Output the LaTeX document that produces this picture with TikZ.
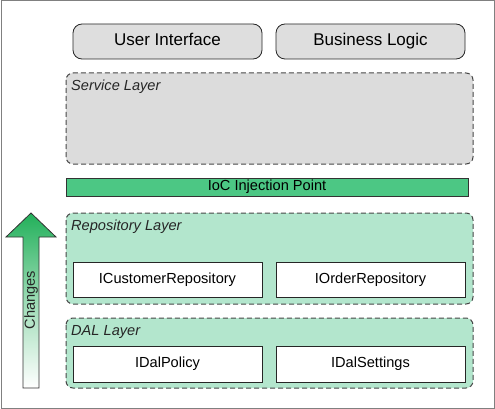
\documentclass[tikz,border=0pt]{standalone}
\usepackage{fontspec}
\setmainfont{Liberation Sans}
\begin{document}
\begin{tikzpicture}[x=1pt,y=-1pt,
  topbox/.style={draw=black!85,fill=black!13,rounded corners=9pt,line width=0.8pt,text height=12.2pt,text depth=3.6pt,font=\fontsize{17}{20}\selectfont},
  layerbox/.style={draw=black!72,dashed,dash pattern=on 5pt off 3pt,rounded corners=7pt,line width=1pt},
  ifacebox/.style={draw=black!85,fill=white,line width=0.8pt,text height=10.5pt,text depth=3pt,font=\fontsize{14.6}{17}\selectfont},
  layerlabel/.style={anchor=north west,inner sep=0pt,font=\fontsize{14.6}{17}\selectfont\itshape,text=black!85},
]
\definecolor{svcgray}{HTML}{DCDCDC}
\definecolor{iocgreen}{HTML}{4CC784}
\definecolor{lightgreen}{HTML}{B3E6CD}
\definecolor{arrowgreen}{HTML}{22B05A}
\useasboundingbox (0,0) rectangle (495,409);
\draw[black!50,line width=1pt] (1,1) rectangle (494,408);

% top boxes
\node[topbox,minimum width=189pt,minimum height=35pt] (ui) at (167.5,41.5) {User Interface};
\node[topbox,minimum width=189pt,minimum height=35pt] (bl) at (370.5,41.5) {Business Logic};

% service layer
\draw[layerbox,fill=svcgray] (66,73) rectangle (473,164);
\node[layerlabel] (svc) at (71,80) {Service Layer};

% IoC bar
\node[draw=black!80,fill=iocgreen,line width=0.8pt,minimum width=402pt,minimum height=18pt,inner sep=0pt,font=\fontsize{14.6}{17}\selectfont] (ioc) at (267,187) {IoC Injection Point};

% repository layer
\draw[layerbox,fill=lightgreen] (66,213) rectangle (473,304);
\node[layerlabel] (repo) at (71,220) {Repository Layer};
\node[ifacebox,minimum width=189pt,minimum height=35pt] (icr) at (167.5,279.5) {ICustomerRepository};
\node[ifacebox,minimum width=189pt,minimum height=35pt] (ior) at (370.5,279.5) {IOrderRepository};

% DAL layer
\draw[layerbox,fill=lightgreen] (66,318) rectangle (473,388);
\node[layerlabel] (dal) at (71,325) {DAL Layer};
\node[ifacebox,minimum width=189pt,minimum height=36pt] (idp) at (167.5,364) {IDalPolicy};
\node[ifacebox,minimum width=189pt,minimum height=36pt] (ids) at (370.5,364) {IDalSettings};

% changes arrow
\shade[top color=arrowgreen,bottom color=white,middle color=arrowgreen!45]
  (23,388) -- (23,237) -- (6,237) -- (31,213) -- (56,237) -- (39,237) -- (39,388) -- cycle;
\draw[black!80,line width=0.8pt,line join=miter]
  (23,388) -- (23,237) -- (6,237) -- (31,213) -- (56,237) -- (39,237) -- (39,388) -- cycle;
\node[rotate=90,font=\fontsize{14.6}{17}\selectfont,text=black!85] (chg) at (31,300) {Changes};
\end{tikzpicture}
\end{document}
